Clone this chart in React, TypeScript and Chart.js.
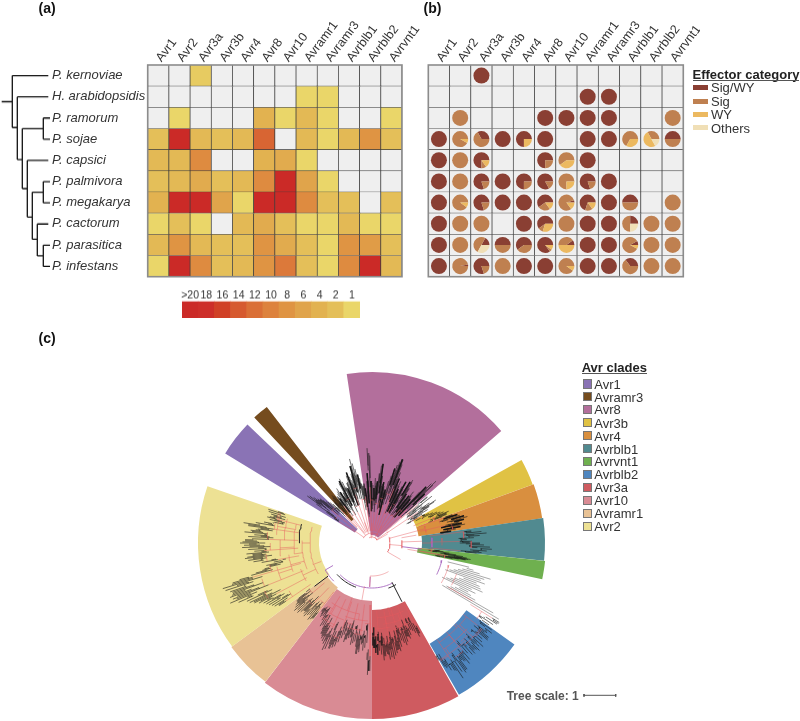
import React, { useEffect, useRef } from "react";
import { Chart, registerables } from "chart.js";

Chart.register(...registerables);

const FONT = "'Liberation Sans', Arial, sans-serif";

const avrFamilies = ["Avr1", "Avr2", "Avr3a", "Avr3b", "Avr4", "Avr8", "Avr10", "Avramr1", "Avramr3", "Avrblb1", "Avrblb2", "Avrvnt1"];
const species = ["P. kernoviae", "H. arabidopsidis", "P. ramorum", "P. sojae", "P. capsici", "P. palmivora", "P. megakarya", "P. cactorum", "P. parasitica", "P. infestans"];

// (a) copy numbers, rows = species, columns = families, 0 = absent
const copyKernoviae = [0, 0, 1.5, 0, 0, 0, 0, 0, 0, 0, 0, 0];
const copyHarabidopsidis = [0, 0, 0, 0, 0, 0, 0, 1, 1, 0, 0, 0];
const copyRamorum = [0, 1, 0, 0, 0, 4, 1, 3, 1, 0, 0, 1];
const copySojae = [2, 20, 3, 2, 3, 13, 0, 3, 1, 3, 8, 2];
const copyCapsici = [3, 3, 9, 0, 0, 4, 5, 1, 0, 0, 0, 0];
const copyPalmivora = [2, 3, 5, 2, 3, 9, 20, 6, 1, 0, 0, 0];
const copyMegakarya = [4, 20, 20, 6, 1, 20, 20, 9, 2, 2, 0, 2];
const copyCactorum = [1, 2, 1, 0, 3, 5, 2, 1, 1, 3, 1, 1];
const copyParasitica = [3, 8, 3, 2, 2, 8, 5, 2, 1, 8, 7, 2];
const copyInfestans = [1, 20, 9, 2, 3, 8, 11, 2, 1, 9, 20, 3];
const copyRows = [copyKernoviae, copyHarabidopsidis, copyRamorum, copySojae, copyCapsici, copyPalmivora, copyMegakarya, copyCactorum, copyParasitica, copyInfestans];

const scaleLabels = [">20", "18", "16", "14", "12", "10", "8", "6", "4", "2", "1"];
const scaleLevels = [20, 18, 16, 14, 12, 10, 8, 6, 4, 2, 1];
const scaleColors = ["#cb2a27", "#cd2e29", "#d04026", "#d65a2f", "#da6f36", "#dd823d", "#df9443", "#e0a44b", "#e2b250", "#e4bf59", "#ead669"];

// (b) share of each effector category in percent
const pieSigWy = [
  [0, 0, 100, 0, 0, 0, 0, 0, 0, 0, 0, 0],
  [0, 0, 0, 0, 0, 0, 0, 100, 100, 0, 0, 0],
  [0, 0, 0, 0, 0, 100, 100, 100, 100, 0, 0, 0],
  [100, 0, 33, 100, 75, 100, 0, 100, 100, 0, 0, 50],
  [100, 0, 75, 0, 0, 75, 0, 100, 0, 0, 0, 0],
  [100, 0, 80, 100, 75, 83, 0, 80, 100, 0, 0, 0],
  [100, 0, 80, 100, 100, 60, 5, 70, 100, 50, 0, 0],
  [100, 0, 0, 0, 100, 60, 0, 100, 100, 25, 0, 0],
  [100, 0, 17, 50, 60, 85, 10, 100, 100, 8, 0, 0],
  [100, 3, 80, 0, 100, 100, 0, 100, 100, 35, 0, 0],
];
const pieSig = [
  [0, 0, 0, 0, 0, 0, 0, 0, 0, 0, 0, 0],
  [0, 0, 0, 0, 0, 0, 0, 0, 0, 0, 0, 0],
  [0, 100, 0, 0, 0, 0, 0, 0, 0, 0, 0, 100],
  [0, 92, 67, 0, 0, 0, 0, 0, 0, 67, 33, 50],
  [0, 100, 10, 0, 0, 25, 60, 0, 0, 0, 0, 0],
  [0, 100, 20, 0, 25, 17, 75, 20, 0, 0, 0, 0],
  [0, 90, 20, 0, 0, 25, 80, 15, 0, 50, 0, 100],
  [0, 100, 100, 0, 0, 10, 100, 0, 0, 50, 100, 100],
  [0, 100, 50, 50, 40, 5, 40, 0, 0, 84, 100, 100],
  [0, 97, 20, 100, 0, 0, 90, 0, 0, 65, 100, 100],
];
const pieWy = [
  [0, 0, 0, 0, 0, 0, 0, 0, 0, 0, 0, 0],
  [0, 0, 0, 0, 0, 0, 0, 0, 0, 0, 0, 0],
  [0, 0, 0, 0, 0, 0, 0, 0, 0, 0, 0, 0],
  [0, 8, 0, 0, 25, 0, 0, 0, 0, 33, 50, 0],
  [0, 0, 15, 0, 0, 0, 40, 0, 0, 0, 0, 0],
  [0, 0, 0, 0, 0, 0, 25, 0, 0, 0, 0, 0],
  [0, 10, 0, 0, 0, 15, 15, 15, 0, 0, 0, 0],
  [0, 0, 0, 0, 0, 30, 0, 0, 0, 0, 0, 0],
  [0, 0, 0, 0, 0, 10, 50, 0, 0, 8, 0, 0],
  [0, 0, 0, 0, 0, 0, 10, 0, 0, 0, 0, 0],
];
const pieOthers = [
  [0, 0, 0, 0, 0, 0, 0, 0, 0, 0, 0, 0],
  [0, 0, 0, 0, 0, 0, 0, 0, 0, 0, 0, 0],
  [0, 0, 0, 0, 0, 0, 0, 0, 0, 0, 0, 0],
  [0, 0, 0, 0, 0, 0, 0, 0, 0, 0, 17, 0],
  [0, 0, 0, 0, 0, 0, 0, 0, 0, 0, 0, 0],
  [0, 0, 0, 0, 0, 0, 0, 0, 0, 0, 0, 0],
  [0, 0, 0, 0, 0, 0, 0, 0, 0, 0, 0, 0],
  [0, 0, 0, 0, 0, 0, 0, 0, 0, 25, 0, 0],
  [0, 0, 33, 0, 0, 0, 0, 0, 0, 0, 0, 0],
  [0, 0, 0, 0, 0, 0, 0, 0, 0, 0, 0, 0],
];
const effectorCategories = ["Sig/WY", "Sig", "WY", "Others"];
const effectorColors = ["#8a3f33", "#bf8050", "#ecb960", "#f0dfb6"];

// species cladogram: [x1, row1, x2, row2]
const speciesBranches = [
  [1.7, 1.73, 12.3, 1.73], [12.3, 0.5, 12.3, 2.95], [12.3, 0.5, 48.3, 0.5], [12.3, 2.95, 17.3, 2.95],
  [17.3, 1.5, 17.3, 4.46], [17.3, 1.5, 48.3, 1.5], [17.3, 4.46, 22.3, 4.46], [22.3, 3, 22.3, 5.83],
  [22.3, 3, 43.3, 3], [43.3, 2.5, 43.3, 3.5], [43.3, 2.5, 50, 2.5], [43.3, 3.5, 50, 3.5],
  [22.3, 5.83, 27.3, 5.83], [27.3, 4.5, 27.3, 7.17], [27.3, 4.5, 48.3, 4.5], [27.3, 7.17, 32.3, 7.17],
  [32.3, 6, 32.3, 8.22], [32.3, 6, 43.3, 6], [43.3, 5.5, 43.3, 6.5], [43.3, 5.5, 50, 5.5], [43.3, 6.5, 50, 6.5],
  [32.3, 8.22, 37.3, 8.22], [37.3, 7.5, 37.3, 9], [37.3, 7.5, 48.3, 7.5], [37.3, 9, 43.3, 9],
  [43.3, 8.5, 43.3, 9.5], [43.3, 8.5, 50, 8.5], [43.3, 9.5, 50, 9.5],
];

// (c) clade wedges, clockwise from the top
const fanLabels = ["Avr8", "g1", "Avr3b", "Avr4", "Avrblb1", "Avrvnt1", "g2", "Avrblb2", "g3", "Avr3a", "Avr10", "Avramr1", "Avr2", "g4", "Avr1", "g5", "Avramr3", "g6"];
const fanSpans = [57.6, 11.9, 9, 11.7, 14.2, 6.1, 23.5, 24.7, 0.4, 29.4, 37.5, 16, 55.5, 12.4, 12.2, 3.2, 5.5, 29.2];
const fanInner = [8, 0, 47, 47, 50, 46, 0, 116, 0, 67, 58, 56, 53, 0, 20, 0, 30, 0];
const fanOuter = [171, 0, 171, 172, 173, 174, 0, 175, 0, 176, 176, 175, 174, 0, 172, 0, 172, 0];
const fanColors = ["#b36f9c", "transparent", "#e0c244", "#d98f3f", "#518a90", "#6fb04f", "transparent", "#4f86bf", "transparent", "#cf5b60", "#d98b94", "#e8c295", "#ede194", "transparent", "#8a73b5", "transparent", "#754c1e", "transparent"];

const legendClades = ["Avr1", "Avramr3", "Avr8", "Avr3b", "Avr4", "Avrblb1", "Avrvnt1", "Avrblb2", "Avr3a", "Avr10", "Avramr1", "Avr2"];
const legendCladeColors = ["#8a73b5", "#754c1e", "#b36f9c", "#e0c244", "#d98f3f", "#518a90", "#6fb04f", "#4f86bf", "#cf5b60", "#d98b94", "#e8c295", "#ede194"];

// tree tip radii, read clockwise along each clade
const tipsAvr8 = [60, 55, 48, 62, 70, 95, 90, 62, 60, 58, 55, 65, 60, 62, 70, 78, 80, 68, 60, 62, 58, 52, 55, 64, 70, 78, 82, 86, 89, 84, 76, 70, 64, 68, 60, 55, 64, 70, 62, 58, 72, 75, 66, 60, 58, 55, 60, 66, 62, 58, 55, 70, 78, 84, 89, 72, 60];
const tipsGapRight = [72, 60, 76, 55, 62, 70, 77, 68, 60, 65, 58, 52];
const tipsAvr3b = [60, 64, 68, 72, 75, 78, 83, 80, 75];
const tipsAvr4 = [85, 90, 92, 96, 99, 95, 90, 92, 95, 90, 85, 80];
const tipsAvrblb1 = [100, 110, 115, 108, 102, 95, 100, 108, 112, 118, 120, 115, 110];
const tipsAvrvnt1 = [68, 72, 78, 85, 92, 96, 100, 95, 88, 82];
const tipsGapGrey = [100, 105, 112, 124, 118, 115, 120, 112, 116, 118, 121, 110, 115, 108, 112, 118, 140, 148];
const tipsAvrblb2 = [150, 149, 146, 143, 148, 150, 146, 150, 151, 146, 148, 152, 149, 152, 148, 151, 150, 146, 152, 155, 150, 158, 160, 157, 163, 152, 150, 146, 135];
const tipsAvr3a = [102, 105, 100, 97, 95, 100, 103, 100, 105, 108, 105, 102, 108, 112, 110, 113, 115, 118, 116, 118, 112, 114, 118, 112, 108, 112, 110, 105];
const tipsAvr10 = [128, 132, 100, 105, 108, 102, 110, 112, 105, 100, 102, 104, 97, 98, 100, 103, 96, 100, 105, 110, 112, 114, 110, 116, 118, 112, 110, 108, 104, 100, 96, 98, 92, 88, 90, 85];
const tipsAvramr1 = [96, 98, 100, 95, 97, 100, 98, 96, 99, 102, 100, 103, 100, 98, 95, 92];
const tipsAvr2 = [112, 116, 118, 120, 122, 124, 128, 132, 136, 138, 146, 154, 150, 152, 148, 150, 154, 156, 145, 125, 113, 105, 108, 100, 112, 120, 125, 128, 120, 126, 118, 124, 130, 128, 132, 127, 120, 124, 118, 128, 122, 115, 125, 130, 118, 110, 100, 105, 108, 102, 105, 108, 109];
const tipsAvr1 = [45, 55, 68, 80, 78, 74, 70, 68, 65, 62, 60, 58, 55];
const tipsAvramr3 = [55, 58, 60, 62, 60, 56];
const tipsGapTop = [58, 55, 60, 62, 65, 60, 55, 58, 68, 70, 72, 68, 62, 60, 65, 66, 72, 75, 70, 66, 72, 80, 87, 82, 76, 70, 66, 60, 58];

// interior branches: arcs [from, to, radius], spokes [angle, r0, r1]
const redArcs = [
  [70, 120, 18], [85, 100, 30], [150, 183, 33], [-30, 60, 6], [-60, 40, 10],
  [240, 285, 62], [248, 272, 70], [262, 284, 78], [272, 286, 88], [250, 262, 84], [240, 250, 76], [275, 288, 96], [262, 272, 92], [248, 256, 98],
  [190, 214, 72], [183, 200, 78], [200, 212, 82], [186, 196, 88], [204, 214, 90],
  [155, 176, 75], [160, 172, 82], [155, 166, 88], [168, 178, 86],
  [128, 146, 120], [132, 146, 128], [136, 150, 135], [128, 138, 138],
  [86, 92, 70], [72, 80, 55], [106, 120, 80], [110, 118, 90],
];
const redSpokes = [
  [88, 30, 50], [100, 36, 72], [120, 88, 116], [183, 33, 44], [190, 44, 58], [250, 54, 62], [270, 62, 70], [262, 70, 78], [280, 78, 88], [255, 70, 84],
  [245, 62, 76], [280, 88, 96], [267, 78, 92], [252, 84, 98], [200, 58, 72], [210, 72, 82], [190, 72, 78], [166, 66, 75], [170, 75, 82], [160, 75, 88],
  [135, 116, 120], [140, 120, 128], [145, 128, 135], [133, 120, 138], [90, 50, 60], [80, 30, 45], [75, 18, 55], [95, 18, 30], [55, 5, 20], [30, 6, 20],
  [0, 6, 20], [-20, 10, 22], [-40, 10, 30], [-55, 10, 25], [-5, 5, 10], [60, 6, 18], [120, 18, 33],
];
const purpleArcs = [[153, 225, 45], [225, 240, 54], [104, 116, 72], [85, 94, 60]];
const purpleSpokes = [[97, 30, 50], [240, 45, 54], [183, 34, 44]];
const darkArcs = [[200, 228, 47], [150, 160, 48], [270, 285, 73]];
const darkSpokes = [[153, 44, 66], [233, 55, 72]];
const treeScaleBar = [212, 243.7];

const rad = (d: number) => (d * Math.PI) / 180;
const polar = (a: number, r: number) => ({ x: r * Math.sin(rad(a)), y: r * Math.cos(rad(a)) });
const gap = { x: NaN, y: NaN };
const arcPts = (a0: number, a1: number, r: number) => {
  const out: any[] = [];
  const n = Math.max(2, Math.ceil(Math.abs(a1 - a0) / 2));
  for (let i = 0; i <= n; i++) out.push(polar(a0 + ((a1 - a0) * i) / n, r));
  out.push(gap);
  return out;
};
const spokePts = (a: number, r0: number, r1: number) => [polar(a, r0), polar(a, r1), gap];

function heatColor(v: number) {
  if (!v) return "#efefef";
  if (v >= 20) return scaleColors[0];
  for (let i = 1; i < scaleLevels.length; i++) {
    if (v >= scaleLevels[i]) {
      const t = (v - scaleLevels[i]) / (scaleLevels[i - 1] - scaleLevels[i]);
      const a = scaleColors[i], b = scaleColors[i - 1];
      const ch = (s: string, k: number) => parseInt(s.slice(k, k + 2), 16);
      const m = (k: number) => Math.round(ch(a, k) + (ch(b, k) - ch(a, k)) * t);
      return `rgb(${m(1)},${m(3)},${m(5)})`;
    }
  }
  return scaleColors[scaleColors.length - 1];
}

const gridBorder = {
  id: "gridBorder",
  afterDatasetsDraw(chart: any) {
    const { ctx, chartArea: c } = chart;
    ctx.save();
    ctx.strokeStyle = "#8c8c8c";
    ctx.lineWidth = 1.6;
    ctx.strokeRect(c.left, c.top, c.right - c.left, c.bottom - c.top);
    ctx.restore();
  },
};

const piePlugin = {
  id: "cellPies",
  afterDatasetsDraw(chart: any) {
    const { ctx, scales } = chart;
    const layers = [pieSigWy, pieSig, pieWy, pieOthers];
    species.forEach((_, row) => {
      avrFamilies.forEach((__, col) => {
        const cx = scales.x.getPixelForValue(col);
        const cy = scales.y.getPixelForValue(row + 0.5);
        let start = 0;
        layers.forEach((layer, k) => {
          const v = layer[row][col];
          if (!v) return;
          const end = start + (v / 100) * Math.PI * 2;
          ctx.beginPath();
          if (v >= 100) ctx.arc(cx, cy, 8, 0, Math.PI * 2);
          else { ctx.moveTo(cx, cy); ctx.arc(cx, cy, 8, -start, -end, true); ctx.closePath(); }
          ctx.fillStyle = effectorColors[k];
          ctx.fill();
          start = end;
        });
      });
    });
  },
};

const fanRadii = {
  id: "fanRadii",
  beforeDatasetsDraw(chart: any) {
    chart.getDatasetMeta(0).data.forEach((el: any, i: number) => {
      el.innerRadius = fanInner[i];
      el.outerRadius = fanOuter[i];
    });
  },
};

function gridChart(values: (r: number, c: number) => string, axisWidth: number, padding: any, plugins: any[]) {
  return {
    type: "bar",
    data: {
      labels: avrFamilies,
      datasets: species.map((s, r) => ({
        label: s,
        data: avrFamilies.map(() => 1),
        backgroundColor: avrFamilies.map((_, c) => values(r, c)),
        borderColor: "#3c3c3c",
        borderWidth: 0.7,
        barPercentage: 1,
        categoryPercentage: 1,
        stack: "rows",
      })),
    },
    plugins,
    options: {
      responsive: false,
      animation: false,
      layout: { padding },
      plugins: { legend: { display: false }, tooltip: { enabled: false } },
      scales: {
        x: {
          position: "top",
          stacked: true,
          grid: { display: false },
          border: { display: false },
          afterFit: (s: any) => { s.height = 65; },
          ticks: { minRotation: 53, maxRotation: 53, autoSkip: false, padding: -8, labelOffset: 12.5, color: "#333", font: { family: FONT, size: 12.5 } },
        },
        y: {
          stacked: true,
          reverse: true,
          min: 0,
          max: 10,
          display: axisWidth > 0,
          grid: { display: false },
          border: { display: false },
          afterFit: (s: any) => { s.width = axisWidth; },
          afterBuildTicks: (s: any) => { s.ticks = species.map((_, i) => ({ value: i + 0.5 })); },
          ticks: {
            autoSkip: false,
            crossAlign: "far",
            color: "#333",
            font: { family: FONT, size: 13, style: "italic" },
            callback: (v: number) => species[Math.floor(v)],
          },
        },
      },
    },
  };
}

const heatConfig = () => gridChart((r, c) => heatColor(copyRows[r][c]), 95.7, { left: 52, right: 18, top: 0, bottom: 23.3 }, [gridBorder]);
const pieConfig = () => gridChart(() => "#efefef", 0, { left: 8.3, right: 16.7, top: 0, bottom: 23.3 }, [piePlugin, gridBorder]);

const speciesTreeConfig = () => ({
  type: "scatter",
  data: {
    datasets: [{
      data: speciesBranches.flatMap(([x1, r1, x2, r2]) => [{ x: x1, y: r1 }, { x: x2, y: r2 }, gap]),
      showLine: true,
      pointRadius: 0,
      borderColor: "#111",
      borderWidth: 1.3,
    }],
  },
  options: {
    responsive: false,
    animation: false,
    layout: { padding: 0 },
    plugins: { legend: { display: false }, tooltip: { enabled: false } },
    scales: {
      x: { type: "linear", min: 0, max: 52, display: false },
      y: { type: "linear", min: 0, max: 10, reverse: true, display: false },
    },
  },
});

const colorBarConfig = () => ({
  type: "bar",
  data: {
    labels: scaleLabels,
    datasets: [{ data: scaleLabels.map(() => 1), backgroundColor: scaleColors, borderWidth: 0, barPercentage: 1, categoryPercentage: 1, inflateAmount: 0.4 }],
  },
  options: {
    responsive: false,
    animation: false,
    layout: { padding: { left: 10, right: 10, top: 0, bottom: 0 } },
    plugins: { legend: { display: false }, tooltip: { enabled: false } },
    scales: {
      x: {
        position: "top",
        grid: { display: false },
        border: { display: false },
        afterFit: (s: any) => { s.height = 20.7; },
        ticks: { autoSkip: false, maxRotation: 0, padding: -9, color: "#333", font: { family: FONT, size: 10.5 } },
      },
      y: { min: 0, max: 1, display: false },
    },
  },
});

const fanConfig = () => ({
  type: "doughnut",
  data: {
    labels: fanLabels,
    datasets: [{ data: fanSpans, backgroundColor: fanColors, borderWidth: 0 }],
  },
  plugins: [fanRadii],
  options: {
    responsive: false,
    animation: false,
    rotation: -8.5,
    layout: { padding: 0 },
    plugins: { legend: { display: false }, tooltip: { enabled: false } },
  },
});

function treeConfig() {
  // tips, first angle, angle step, inner radius, share of the spoke in black
  const sets: [number[], number, number, number, number][] = [
    [tipsAvr8, -8, 1, 12, 0.6], [tipsGapRight, 50, 1, 18, 0.5], [tipsAvr3b, 61.5, 1, 45, 0.5], [tipsAvr4, 70.5, 1, 50, 0.5],
    [tipsAvrblb1, 83, 1, 58, 0.4], [tipsAvrvnt1, 96.5, 0.5, 48, 0.6], [tipsAvrblb2, 122, 1, 116, 0.55],
    [tipsAvr3a, 152, 1, 68, 0.55], [tipsAvr10, 181, 1, 62, 0.5], [tipsAvramr1, 218, 1, 62, 0.6], [tipsAvr2, 236, 1, 74, 0.5],
    [tipsAvr1, 303, 1, 20, 0.5], [tipsAvramr3, 317, 1, 22, 0.6], [tipsGapTop, 323, 1, 12, 0.55],
  ];
  const black: any[] = [];
  const heavy: any[] = [];
  const red: any[] = [...redArcs.flatMap(([a, b, r]) => arcPts(a, b, r)), ...redSpokes.flatMap(([a, r0, r1]) => spokePts(a, r0, r1))];
  sets.forEach(([tips, start, step, base, share], setIndex) => {
    tips.forEach((tip, i) => {
      const a = start + i * step;
      const spread = 0.45 + ((i * 7) % 5) * 0.14;
      const knee = Math.max(base, tip - (tip - base) * share * spread);
      black.push(...spokePts(a, knee, tip));
      const short = tip - ((i * 13) % 7) * 2.5;
      black.push(...spokePts(a + step * 0.5, knee + (short - knee) * 0.3, short));
      if (i % 2 === 0) black.push(...arcPts(a, a + step * 0.5, knee + (short - knee) * 0.3));
      if (setIndex === 0 && i % 3 === 1) heavy.push(...spokePts(a, knee, tip));
      if (setIndex === 13 && i % 4 === 1) heavy.push(...spokePts(a, knee, tip));
      if (setIndex === 3 && i % 2 === 1) heavy.push(...spokePts(a, knee, tip));
      if (i % 6 === 0) red.push(...spokePts(a, base, knee));
      else if (i % 6 === 2) red.push(...arcPts(a - step * 2, a + step * 2, knee));
    });
  });
  const grey = tipsGapGrey.flatMap((tip, i) => spokePts(104 + i, 78 + ((i * 11) % 6) * 4, tip));
  const common = { showLine: true, pointRadius: 0, spanGaps: false };
  const [x0, x1] = treeScaleBar;
  return {
    type: "scatter",
    data: {
      datasets: [
        { ...common, label: "interior", data: red, borderColor: "rgba(230,90,95,0.75)", borderWidth: 0.6 },
        { ...common, label: "purple", data: [...purpleArcs.flatMap(([a, b, r]) => arcPts(a, b, r)), ...purpleSpokes.flatMap(([a, r0, r1]) => spokePts(a, r0, r1))], borderColor: "#a869c0", borderWidth: 0.9 },
        { ...common, label: "grey tips", data: grey, borderColor: "#6e6e6e", borderWidth: 0.6 },
        { ...common, label: "tips", data: black, borderColor: "rgba(25,25,25,0.8)", borderWidth: 0.75 },
        { ...common, label: "heavy tips", data: heavy, borderColor: "#161616", borderWidth: 1.5 },
        { ...common, label: "dark", data: [...darkArcs.flatMap(([a, b, r]) => arcPts(a, b, r)), ...darkSpokes.flatMap(([a, r0, r1]) => spokePts(a, r0, r1))], borderColor: "#222", borderWidth: 1 },
        {
          ...common, label: "scale", borderColor: "#555", borderWidth: 1,
          data: [{ x: x0, y: -152.3 }, { x: x1, y: -152.3 }, gap, { x: x0, y: -151 }, { x: x0, y: -153.6 }, gap, { x: x1, y: -151 }, { x: x1, y: -153.6 }],
        },
      ],
    },
    options: {
      responsive: false,
      animation: false,
      layout: { padding: 0 },
      plugins: { legend: { display: false }, tooltip: { enabled: false } },
      scales: {
        x: { type: "linear", min: -200, max: 260, display: false },
        y: { type: "linear", min: -200, max: 200, display: false },
      },
    },
  };
}

function ChartCanvas({ left, top, width, height, config }: any) {
  const ref = useRef<HTMLCanvasElement>(null);
  useEffect(() => {
    const chart = new Chart(ref.current as any, config());
    return () => chart.destroy();
  }, []);
  return <canvas ref={ref} width={width} height={height} style={{ position: "absolute", left, top, width, height }} />;
}

const Text = ({ x, y, size, bold, color, children }: any) => (
  <div style={{ position: "absolute", left: x, top: y, transform: "translateY(-50%)", fontFamily: FONT, fontSize: size, fontWeight: bold ? 700 : 400, color: color || "#333", lineHeight: 1, whiteSpace: "nowrap" }}>
    {children}
  </div>
);
const Box = ({ x, y, w, h, color, border }: any) => (
  <div style={{ position: "absolute", left: x, top: y, width: w, height: h, background: color, boxSizing: "border-box", border }} />
);

const effectorRows = [87, 101, 114, 127.5];
const cladeRows = [384, 396.7, 409.3, 422.7, 435.7, 448.7, 461.3, 474.3, 487.3, 500.3, 513.3, 526.3];

export default function App() {
  return (
    <div style={{ position: "absolute", left: 0, top: 0, width: 800, height: 721, overflow: "hidden", background: "#fff" }}>
      <ChartCanvas left={0} top={0} width={420} height={300} config={heatConfig} />
      <ChartCanvas left={0} top={65} width={52} height={211.7} config={speciesTreeConfig} />
      <ChartCanvas left={420} top={0} width={280} height={300} config={pieConfig} />
      <ChartCanvas left={171.7} top={280} width={198.3} height={37.5} config={colorBarConfig} />
      <ChartCanvas left={172} top={343} width={400} height={400} config={fanConfig} />
      <ChartCanvas left={172} top={343} width={460} height={400} config={treeConfig} />

      <Text x={38.5} y={8} size={14} bold color="#111">(a)</Text>
      <Text x={423.5} y={8} size={14} bold color="#111">(b)</Text>
      <Text x={38.5} y={338} size={14} bold color="#111">(c)</Text>

      <Text x={692.5} y={74} size={13} bold color="#222">Effector category</Text>
      <Box x={692.5} y={80} w={106} h={1.2} color="#555" />
      {effectorCategories.map((c, i) => (
        <React.Fragment key={c}>
          <Box x={692.7} y={effectorRows[i] - 2.5} w={15} h={5} color={effectorColors[i]} />
          <Text x={711} y={effectorRows[i]} size={13}>{c}</Text>
        </React.Fragment>
      ))}

      <Text x={581.7} y={367} size={13} bold color="#222">Avr clades</Text>
      <Box x={581.7} y={373} w={65} h={1.2} color="#555" />
      {legendClades.map((c, i) => (
        <React.Fragment key={c}>
          <Box x={582.7} y={cladeRows[i] - 4.7} w={9.4} h={9.4} color={legendCladeColors[i]} border="1px solid #777" />
          <Text x={594.3} y={cladeRows[i]} size={13}>{c}</Text>
        </React.Fragment>
      ))}

      <Text x={506.7} y={695.5} size={12} bold color="#555">Tree scale: 1</Text>
    </div>
  );
}
